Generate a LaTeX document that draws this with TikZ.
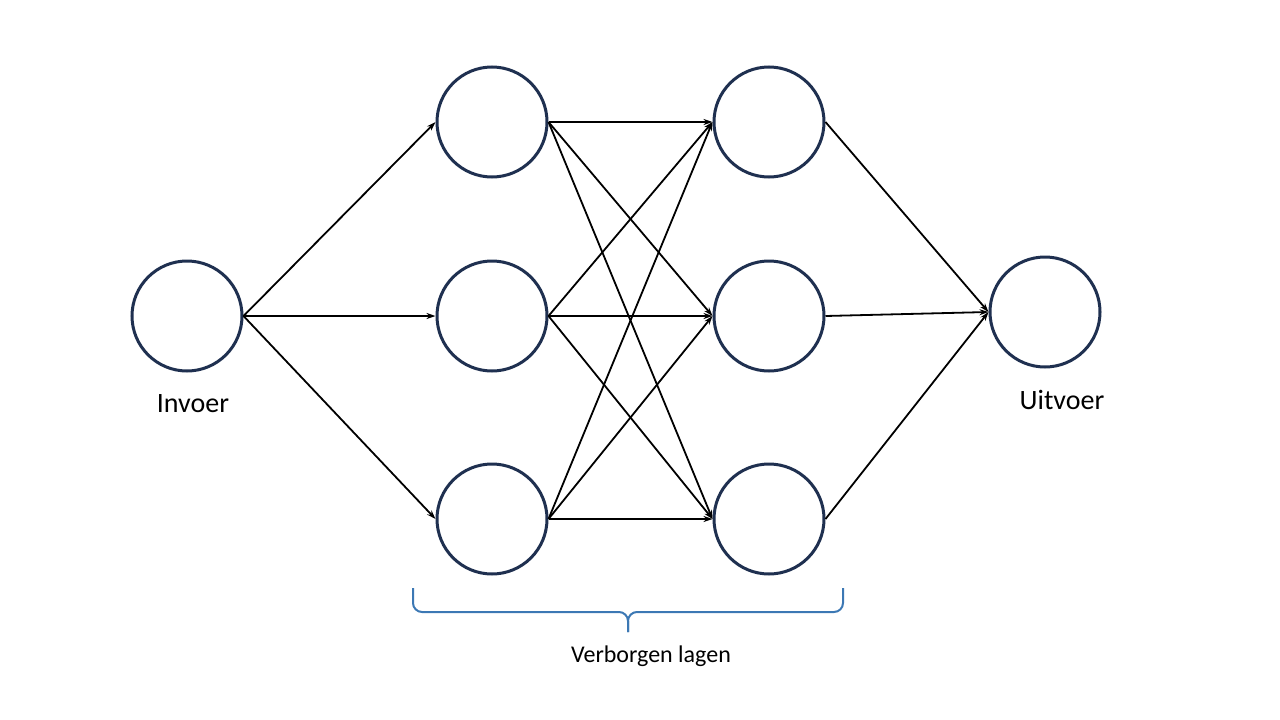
\documentclass[tikz,border=0pt]{standalone}
\usepackage{fontspec}
\setmainfont{Carlito}
\usetikzlibrary{arrows.meta}
\begin{document}
\begin{tikzpicture}[x=1pt,y=-1pt,
  neuron/.style={circle,draw=navy,line width=3pt,minimum size=110pt,inner sep=0pt},
  conn/.style={line width=1.8pt,-{Stealth[length=9pt,width=6pt]}}]
\definecolor{navy}{HTML}{1F3050}
\definecolor{bracecol}{HTML}{3C78B4}
\useasboundingbox (0,0) rectangle (1280,720);
\node[neuron] (in) at (187,316) {};
\node[neuron] (a1) at (492,122) {};
\node[neuron] (a2) at (492,316) {};
\node[neuron] (a3) at (492,519) {};
\node[neuron] (b1) at (769,122) {};
\node[neuron] (b2) at (769,316) {};
\node[neuron] (b3) at (769,519) {};
\node[neuron] (out) at (1045,312) {};
\foreach \a in {a1,a2,a3} \draw[conn] (in.east) -- (\a.west);
\foreach \a in {a1,a2,a3} \foreach \b in {b1,b2,b3} \draw[conn] (\a.east) -- (\b.west);
\foreach \b in {b1,b2,b3} \draw[conn] (\b.east) -- (out.west);
\node[font=\fontsize{28}{32}\selectfont] (lin) at (193,404) {Invoer};
\node[font=\fontsize{28}{32}\selectfont] (lout) at (1062,400) {Uitvoer};
\draw[bracecol,line width=2pt,rounded corners=9pt] (413,588) -- (413,612) -- (628,612) -- (628,632);
\draw[bracecol,line width=2pt,rounded corners=9pt] (843,588) -- (843,612) -- (628,612) -- (628,632);
\node[font=\fontsize{24}{28}\selectfont] (lh) at (651,656) {Verborgen lagen};
\end{tikzpicture}
\end{document}
